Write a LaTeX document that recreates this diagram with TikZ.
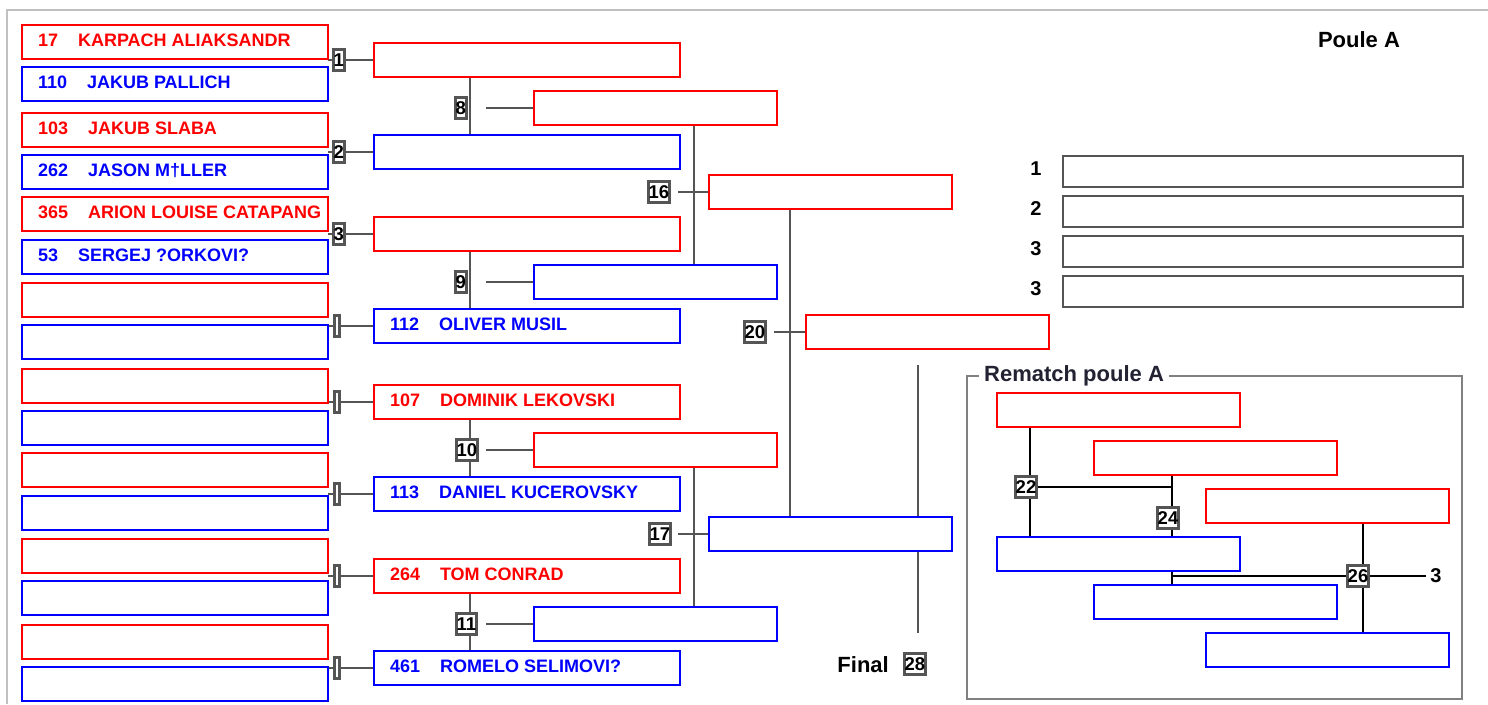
\documentclass[tikz,border=0pt]{standalone}
\usepackage{fontspec}
\setmainfont{Liberation Sans}
\definecolor{pred}{HTML}{FF0000}
\definecolor{pblue}{HTML}{0000FF}
\definecolor{nbgray}{HTML}{555555}
\definecolor{lngray}{HTML}{555555}
\definecolor{framegray}{HTML}{C0C0C0}
\definecolor{rgray}{HTML}{808080}
\definecolor{titlecol}{HTML}{222233}
\pgfdeclarelayer{back}
\pgfdeclarelayer{bg}
\pgfsetlayers{back,bg,main}
\newcommand\ent[2]{\makebox[274pt][l]{#1\hspace{20pt}#2}}
\tikzset{
  slot/.style={line width=2pt, fill=white, anchor=north west, minimum height=34pt,
    inner xsep=16pt, inner ysep=0pt, outer sep=0pt, text height=13pt, text depth=5pt,
    font=\fontsize{18}{20}\selectfont\bfseries},
  rs/.style={slot, draw=pred, text=pred},
  bs/.style={slot, draw=pblue, text=pblue},
  wide/.style={minimum width=306pt},
  short/.style={minimum width=243pt},
  num/.style={draw=nbgray, line width=3pt, fill=white, inner xsep=0.5pt, inner ysep=0pt,
    minimum height=21.5pt, minimum width=10.5pt, outer sep=0pt,
    font=\fontsize{18.5}{20}\selectfont\bfseries, text height=13.3pt, text depth=0pt},
  blank/.style={draw=nbgray, line width=3pt, fill=white, minimum height=21.5pt,
    minimum width=5.5pt, inner sep=0pt, outer sep=0pt},
  link/.style={draw=lngray, line width=1.4pt},
  rlink/.style={draw=black, line width=1.2pt},
  stand/.style={draw=nbgray, line width=2.8pt, anchor=north west, minimum width=400pt,
    minimum height=31pt, inner sep=0pt, outer sep=0pt},
  lab/.style={inner sep=0pt, font=\fontsize{20}{22}\selectfont\bfseries},
  big/.style={inner sep=0pt, font=\fontsize{22}{24}\selectfont\bfseries},
}
\begin{document}
\begin{tikzpicture}[x=1pt, y=-1pt]
\useasboundingbox (0,0) rectangle (1488,704);
\begin{pgfonlayer}{back}
\fill[white] (0,0) rectangle (1488,704);
\end{pgfonlayer}
% outer frame
\draw[framegray, line width=2.5pt] (7,704) -- (7,10) -- (1488,10);

% ---------- first round column ----------
\node[rs, wide] (l1r) at (22,25)  {\ent{17}{KARPACH ALIAKSANDR}};
\node[bs, wide] (l1b) at (22,67)  {\ent{110}{JAKUB PALLICH}};
\node[rs, wide] (l2r) at (22,113) {\ent{103}{JAKUB SLABA}};
\node[bs, wide] (l2b) at (22,155) {\ent{262}{JASON M†LLER}};
\node[rs, wide] (l3r) at (22,197) {\ent{365}{ARION LOUISE CATAPANG}};
\node[bs, wide] (l3b) at (22,240) {\ent{53}{SERGEJ ?ORKOVI?}};
\node[rs, wide] (l4r) at (22,283) {};
\node[bs, wide] (l4b) at (22,325) {};
\node[rs, wide] (l5r) at (22,369) {};
\node[bs, wide] (l5b) at (22,411) {};
\node[rs, wide] (l6r) at (22,453) {};
\node[bs, wide] (l6b) at (22,496) {};
\node[rs, wide] (l7r) at (22,539) {};
\node[bs, wide] (l7b) at (22,581) {};
\node[rs, wide] (l8r) at (22,625) {};
\node[bs, wide] (l8b) at (22,667) {};

% ---------- second round column ----------
\node[rs, wide] (c1) at (374,43)  {};
\node[bs, wide] (c2) at (374,135) {};
\node[rs, wide] (c3) at (374,217) {};
\node[bs, wide] (c4) at (374,309) {\ent{112}{OLIVER MUSIL}};
\node[rs, wide] (c5) at (374,385) {\ent{107}{DOMINIK LEKOVSKI}};
\node[bs, wide] (c6) at (374,477) {\ent{113}{DANIEL KUCEROVSKY}};
\node[rs, wide] (c7) at (374,559) {\ent{264}{TOM CONRAD}};
\node[bs, wide] (c8) at (374,651) {\ent{461}{ROMELO SELIMOVI?}};

% first-round match markers
\node[num, anchor=west] (m1) at (333,60)  {1};
\node[num, anchor=west] (m2) at (333,152) {2};
\node[num, anchor=west] (m3) at (333,234) {3};
\node[blank, anchor=west] (m4) at (334,326) {};
\node[blank, anchor=west] (m5) at (334,402) {};
\node[blank, anchor=west] (m6) at (334,494) {};
\node[blank, anchor=west] (m7) at (334,576) {};
\node[blank, anchor=west] (m8e) at (334,668) {};

% ---------- third round ----------
\node[rs, short] (d1) at (534,91)  {};
\node[bs, short] (d2) at (534,265) {};
\node[rs, short] (d3) at (534,433) {};
\node[bs, short] (d4) at (534,607) {};
\node[num, anchor=west] (m8)  at (455,108) {8};
\node[num, anchor=west] (m9)  at (455,282) {9};
\node[num, anchor=west] (m10) at (456,450) {10};
\node[num, anchor=west] (m11) at (456,624) {11};

% ---------- fourth round ----------
\node[rs, short] (e1) at (709,175) {};
\node[bs, short] (e2) at (709,517) {};
\node[num, anchor=west] (m16) at (648,192) {16};
\node[num, anchor=west] (m17) at (649,534) {17};

% ---------- fifth round ----------
\node[rs, short] (f1) at (806,315) {};
\node[num, anchor=west] (m20) at (744,332) {20};

% final
\node[big, anchor=east] (fin) at (889,665) {Final};
\node[num, anchor=west] (m28) at (904,664) {28};
\coordinate (ft) at (918,365);
\coordinate (fb) at (918,633);

% ---------- standings ----------
\node[big] (poule) at (1359,40) {Poule A};
\node[stand] (s1) at (1063,156) {};
\node[stand] (s2) at (1063,196) {};
\node[stand] (s3) at (1063,236) {};
\node[stand] (s4) at (1063,276) {};
\node[lab] (sl1) at (1036,169) {1};
\node[lab] (sl2) at (1036,209) {2};
\node[lab] (sl3) at (1036,249) {3};
\node[lab] (sl4) at (1036,289) {3};

% ---------- rematch ----------
\draw[rgray, line width=2pt] (967,376) rectangle (1462,699);
\node[anchor=west, fill=white, inner xsep=5pt, inner ysep=2pt, text=titlecol,
      font=\fontsize{22}{24}\selectfont\bfseries] (rtitle) at (979,376) {Rematch poule A};
\node[rs, short] (r1) at (997,393) {};
\node[rs, short] (r2) at (1094,441) {};
\node[rs, short] (r3) at (1206,489) {};
\node[bs, short] (b1) at (997,537) {};
\node[bs, short] (b2) at (1094,585) {};
\node[bs, short] (b3) at (1206,633) {};
\node[num] (m22) at (1026,487) {22};
\node[num] (m24) at (1168,518) {24};
\node[num] (m26) at (1358,576) {26};
\node[lab, inner xsep=4pt] (t3) at (1436,576) {3};

% column x positions
\coordinate (xa) at (470,0);
\coordinate (ha) at (486,0);
\coordinate (xb) at (694,0);
\coordinate (hb) at (678,0);
\coordinate (xc) at (790,0);
\coordinate (hc) at (774,0);
\coordinate (x22) at (1030,0);
\coordinate (x24) at (1172,0);
\coordinate (x26) at (1363,0);

\begin{pgfonlayer}{bg}
  % first round -> second round
  \foreach \i in {1,2,3} {
    \draw[link] (l\i r.east |- m\i.west) -- (m\i.west);
    \draw[link] (m\i.east) -- (c\i.west);
  }
  \foreach \i/\m in {4/m4,5/m5,6/m6,7/m7,8/m8e} {
    \draw[link] (l\i r.east |- \m.west) -- (\m.west);
    \draw[link] (\m.east) -- (c\i.west);
  }
  % second round -> third round
  \draw[link] (c1.south -| xa) -- (c2.north -| xa);
  \draw[link] (c3.south -| xa) -- (c4.north -| xa);
  \draw[link] (c5.south -| xa) -- (c6.north -| xa);
  \draw[link] (c7.south -| xa) -- (c8.north -| xa);
  \draw[link] (d1.west -| ha) -- (d1.west);
  \draw[link] (d2.west -| ha) -- (d2.west);
  \draw[link] (d3.west -| ha) -- (d3.west);
  \draw[link] (d4.west -| ha) -- (d4.west);
  % third -> fourth
  \draw[link] (d1.south -| xb) -- (d2.north -| xb);
  \draw[link] (d3.south -| xb) -- (d4.north -| xb);
  \draw[link] (e1.west -| hb) -- (e1.west);
  \draw[link] (e2.west -| hb) -- (e2.west);
  % fourth -> fifth
  \draw[link] (e1.south -| xc) -- (e2.north -| xc);
  \draw[link] (f1.west -| hc) -- (f1.west);
  % final line
  \draw[link] (ft) -- (ft |- e2.north);
  \draw[link] (ft |- e2.south) -- (fb);
  % rematch
  \draw[rlink] (r1.south -| x22) -- (b1.north -| x22);
  \draw[rlink] (m22.east) -- (m22.east -| x24);
  \draw[rlink] (r2.south -| x24) -- (b1.north -| x24);
  \draw[rlink] (b1.south -| x24) -- (b2.north -| x24);
  \draw[rlink] (m26.west -| x24) -- (m26.west);
  \draw[rlink] (r3.south -| x26) -- (b3.north -| x26);
  \draw[rlink] (m26.east) -- (m26.east -| t3.west);
\end{pgfonlayer}
\end{tikzpicture}
\end{document}
